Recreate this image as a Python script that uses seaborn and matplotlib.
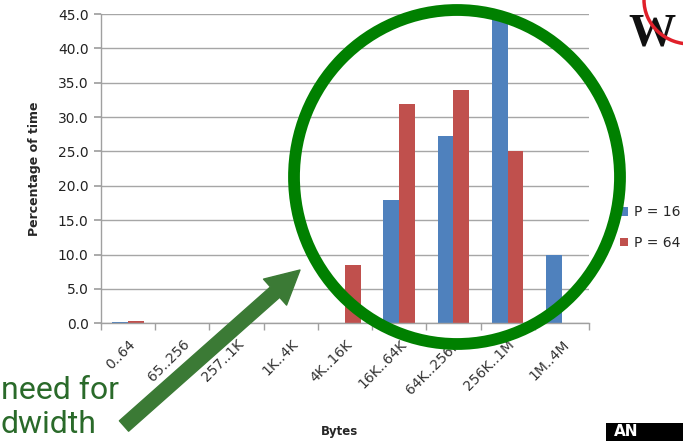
import numpy as np
import pandas as pd
import matplotlib
matplotlib.use("Agg")
import matplotlib.pyplot as plt
import seaborn as sns
from matplotlib.patches import Ellipse, Rectangle, Arc, FancyArrowPatch

categories = ["0..64", "65..256", "257..1K", "1K..4K", "4K..16K",
              "16K..64K", "64K..256K", "256K..1M", "1M..4M"]
p16 = [0.2, 0.0, 0.0, 0.0, 0.0, 17.9, 27.3, 44.2, 10.0]
p64 = [0.4, 0.0, 0.0, 0.0, 8.5, 31.9, 33.9, 25.1, 0.0]
series_names = ["P = 16", "P = 64"]
yticks = [0, 5, 10, 15, 20, 25, 30, 35, 40, 45]

df = pd.DataFrame({
    "Bytes": categories * 2,
    "value": p16 + p64,
    "series": [series_names[0]] * len(categories) + [series_names[1]] * len(categories),
})

sns.set_theme(style="white")
plt.rcParams["font.family"] = ["DejaVu Sans"]

fig = plt.figure(figsize=(6.83, 4.41), dpi=100)
ax = fig.add_axes([101 / 683, 1 - 323.3 / 441, 488 / 683, (323.3 - 14) / 441])

sns.barplot(data=df, x="Bytes", y="value", hue="series", order=categories,
            hue_order=series_names, palette=["#4F81BD", "#C0504D"],
            width=0.58, saturation=1, linewidth=0, edgecolor="none",
            ax=ax, legend=True)

ax.set_ylim(0, 45)
ax.set_xlim(-0.5, len(categories) - 0.5)
ax.set_yticks(yticks)
ax.set_yticklabels([f"{v:.1f}" for v in yticks], fontsize=10, color="#222222")
ax.yaxis.grid(True, color="#A6A6A6", linewidth=1.0)
ax.set_axisbelow(True)
for s in ["top", "right"]:
    ax.spines[s].set_visible(False)
for s in ["left", "bottom"]:
    ax.spines[s].set_color("#A0A0A0")
    ax.spines[s].set_linewidth(1.0)
ax.tick_params(axis="y", which="major", length=5, color="#A0A0A0", left=True, pad=4)
ax.set_xticks(range(len(categories)))
ax.set_xticklabels(categories, rotation=45, ha="right", rotation_mode="anchor",
                   fontsize=10, color="#333333")
ax.set_xticks(np.arange(-0.5, len(categories), 1.0), minor=True)
ax.tick_params(axis="x", which="major", length=0, pad=10)
ax.tick_params(axis="x", which="minor", length=5, color="#A0A0A0", bottom=True)

ax.set_ylabel("Percentage of time", fontsize=9, fontweight="bold", labelpad=12)
ax.set_xlabel("")
fig.text(340 / 683, 1 - 432 / 441, "Bytes", fontsize=8.5, fontweight="bold",
         ha="center", va="center")

ax.legend(loc="center left", bbox_to_anchor=(620 / 683, 1 - 227.5 / 441),
          bbox_transform=fig.transFigure, frameon=False,
          fontsize=10, handlelength=0.6, handleheight=0.6, handletextpad=0.4,
          labelspacing=1.2, borderaxespad=0, borderpad=0)

# Annotations from the slide
ell = Ellipse((457 / 683, 1 - 177 / 441), 326 / 683, 334 / 441, transform=fig.transFigure,
              fill=False, edgecolor="#008000", linewidth=8.5, zorder=10)
fig.patches.append(ell)

arrow = FancyArrowPatch((124, 441 - 426), (300, 441 - 270), transform=None,
                        arrowstyle="simple,head_length=2.4,head_width=2.5,tail_width=1.0",
                        mutation_scale=10, color="#3B7A35", shrinkA=0, shrinkB=0, zorder=11)
fig.patches.append(arrow)

green_txt = ["Roboto", "DejaVu Sans"]
fig.text(1 / 683, 42 / 441, "need for", fontsize=23, color="#2A6A2A",
         family=green_txt, ha="left", va="baseline")
fig.text(1 / 683, 8 / 441, "dwidth", fontsize=23, color="#2A6A2A",
         family=green_txt, ha="left", va="baseline")

# Logo fragments
fig.text(628 / 683, 1 - 45 / 441, "W", fontsize=34, fontweight="bold",
         family=["Liberation Serif", "DejaVu Serif"], color="#111111", ha="left",
         va="baseline")
arc = Arc((690, 441), 92, 88, theta1=180, theta2=272, transform=None,
          color="#E0202A", linewidth=2.5, zorder=12)
fig.patches.append(arc)
fig.patches.append(Rectangle((606 / 683, 0), 77 / 683, 18 / 441, transform=fig.transFigure,
                             facecolor="black", edgecolor="none", zorder=12))
fig.text(614 / 683, 2 / 441, "AN", fontsize=11, fontweight="bold", color="white",
         ha="left", va="bottom", zorder=13)

fig.savefig("out.png", dpi=100)
